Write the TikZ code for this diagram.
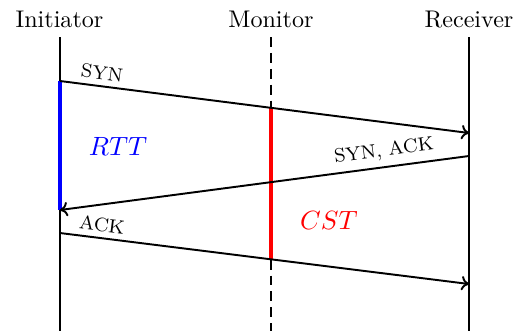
\documentclass[tikz,border=0pt]{standalone}
\usetikzlibrary{arrows.meta}
\begin{document}
\begin{tikzpicture}[x=0.415pt,y=-0.415pt,
  actor/.style={anchor=base,font=\normalsize},
  lifeline/.style={line width=0.85pt},
  msg/.style={line width=0.8pt,-{To[length=3.2pt,width=6pt]}},
  msglabel/.style={font=\footnotesize,inner sep=0pt},
  span/.style={line width=1.7pt},
  spanlabel/.style={font=\fontsize{10.95}{13}\selectfont,inner sep=0pt}]
\useasboundingbox (0,0) rectangle (524,331);

% participants
\node[actor] (ini) at (59.5,27) {Initiator};
\node[actor] (mon) at (271,27) {Monitor};
\node[actor] (rcv) at (469,27) {Receiver};

% lifeline ends
\coordinate (iniTop) at (60,37);  \coordinate (iniBot) at (60,331);
\coordinate (monTop) at (271,37); \coordinate (monBot) at (271,331);
\coordinate (rcvTop) at (469,37); \coordinate (rcvBot) at (469,331);

\draw[lifeline] (iniTop) -- (iniBot);
\draw[lifeline,dash pattern=on 4.1pt off 2.5pt] (monTop) -- (monBot);
\draw[lifeline] (rcvTop) -- (rcvBot);

% message end points
\coordinate (synA) at (60,81);   \coordinate (synB) at (469,133);
\coordinate (saA)  at (469,156); \coordinate (saB)  at (60,210);
\coordinate (ackA) at (60,233);  \coordinate (ackB) at (469,284);

% round trip time on the initiator side
\draw[span,blue] (synA) -- (saB);
\node[spanlabel,text=blue] (rtt) at (118,146) {$RTT$};

% span seen by the monitor
\coordinate (cstA) at (271,108);  \coordinate (cstB) at (271,259.5);
\draw[span,red] (cstA) -- (cstB);
\node[spanlabel,text=red] (cst) at (329,220.5) {$CST$};

% messages
\draw[msg] (synA) -- (synB);
\draw[msg] (saA) -- (saB);
\draw[msg] (ackA) -- (ackB);

\node[msglabel,rotate=-7.2] (synl) at (102,73) {SYN};
\node[msglabel,rotate=7.5] (sal) at (384,151) {SYN, ACK};
\node[msglabel,rotate=-7.1] (ackl) at (102,225) {ACK};
\end{tikzpicture}
\end{document}
